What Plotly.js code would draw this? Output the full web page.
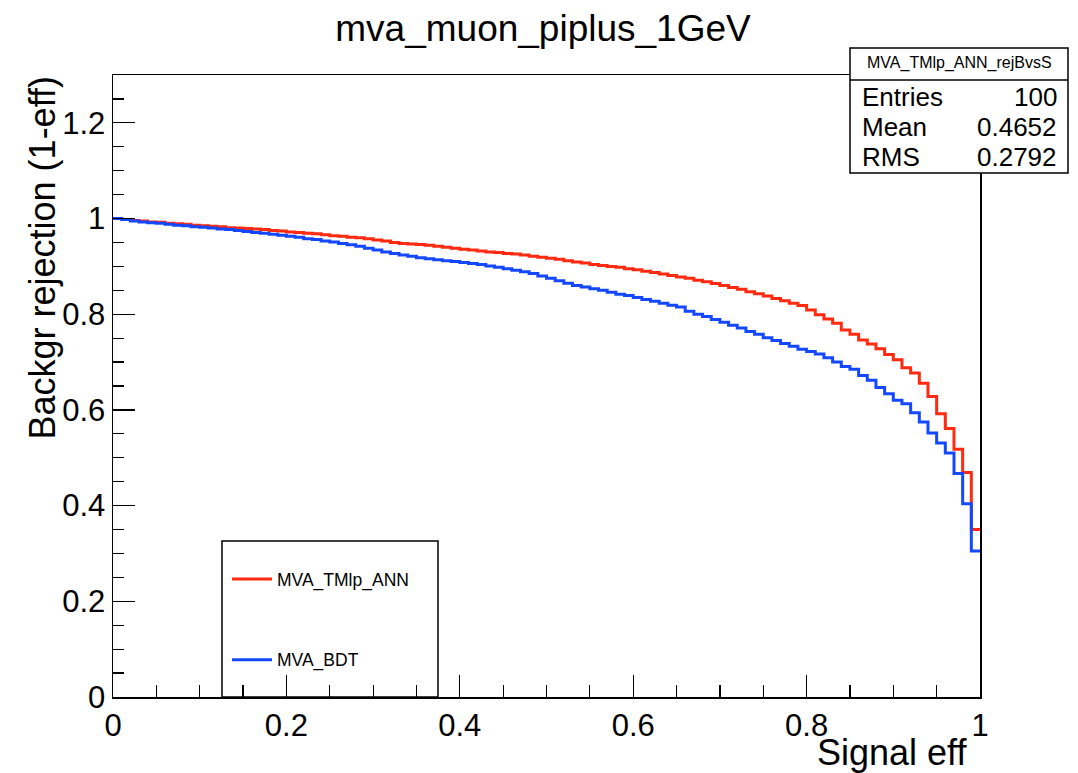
<!DOCTYPE html>
<html>
<head>
<meta charset="utf-8">
<script src="https://cdn.plot.ly/plotly-3.0.1.min.js"></script>
<style>html,body{margin:0;padding:0;background:#fff;}#chart{width:1078px;height:773px;}</style>
</head>
<body>
<div id="chart"></div>
<script>
// Histogram binning (100 bins from 0 to 1)
const nBins = 100;
const xMin = 0;
const xMax = 1;

const seriesNames = ["MVA_TMlp_ANN", "MVA_BDT"];

// Background rejection per signal-efficiency bin
const rejTMlpANN = [
  1.000, 0.998, 0.996, 0.995, 0.993, 0.992, 0.990, 0.989, 0.988, 0.986,
  0.985, 0.984, 0.983, 0.981, 0.980, 0.979, 0.978, 0.977, 0.975, 0.974,
  0.972, 0.971, 0.969, 0.968, 0.966, 0.964, 0.963, 0.961, 0.960, 0.958,
  0.955, 0.953, 0.950, 0.948, 0.947, 0.946, 0.944, 0.942, 0.940, 0.938,
  0.936, 0.934, 0.932, 0.930, 0.929, 0.927, 0.926, 0.924, 0.921, 0.919,
  0.917, 0.915, 0.912, 0.909, 0.907, 0.904, 0.902, 0.900, 0.898, 0.895,
  0.893, 0.890, 0.887, 0.884, 0.881, 0.878, 0.875, 0.871, 0.868, 0.864,
  0.860, 0.856, 0.852, 0.847, 0.843, 0.838, 0.833, 0.828, 0.823, 0.818,
  0.809, 0.799, 0.790, 0.781, 0.767, 0.758, 0.746, 0.738, 0.728, 0.716,
  0.705, 0.688, 0.677, 0.656, 0.628, 0.592, 0.561, 0.518, 0.469, 0.350
];
const rejBDT = [
  1.000, 0.998, 0.995, 0.993, 0.991, 0.990, 0.988, 0.986, 0.985, 0.983,
  0.982, 0.980, 0.978, 0.977, 0.975, 0.973, 0.971, 0.969, 0.967, 0.965,
  0.963, 0.961, 0.958, 0.956, 0.953, 0.951, 0.948, 0.945, 0.942, 0.938,
  0.934, 0.930, 0.927, 0.924, 0.921, 0.918, 0.916, 0.914, 0.912, 0.910,
  0.908, 0.906, 0.904, 0.901, 0.898, 0.895, 0.892, 0.889, 0.885, 0.880,
  0.875, 0.870, 0.865, 0.860, 0.857, 0.853, 0.850, 0.846, 0.842, 0.839,
  0.835, 0.831, 0.827, 0.823, 0.819, 0.815, 0.806, 0.800, 0.795, 0.789,
  0.783, 0.777, 0.771, 0.764, 0.758, 0.751, 0.745, 0.739, 0.733, 0.727,
  0.722, 0.717, 0.709, 0.700, 0.691, 0.685, 0.672, 0.662, 0.647, 0.634,
  0.620, 0.613, 0.594, 0.575, 0.552, 0.531, 0.510, 0.467, 0.404, 0.305
];

const xTickVals = [0, 0.2, 0.4, 0.6, 0.8, 1];
const xTickText = ["0", "0.2", "0.4", "0.6", "0.8", "1"];
const yTickVals = [0, 0.2, 0.4, 0.6, 0.8, 1, 1.2];
const yTickText = ["0", "0.2", "0.4", "0.6", "0.8", "1", "1.2"];

const statsTitle = "MVA_TMlp_ANN_rejBvsS";
const statsLabels = ["Entries", "Mean", "RMS"];
const statsValues = ["100", "0.4652", "0.2792"];

// Build step (histogram) traces from bin edges
const edges = [];
for (let i = 0; i <= nBins; i++) edges.push(xMin + (xMax - xMin) * i / nBins);
function stepY(v) { return v.concat([v[v.length - 1]]); }

const FONT = "Liberation Sans, Arial, Helvetica, sans-serif";
const RED = "#ff2a10";
const BLUE = "#1448ff";

const traces = [
  {x: edges, y: stepY(rejTMlpANN), type: "scatter", mode: "lines", name: seriesNames[0],
   line: {shape: "hv", color: RED, width: 3}, legendgroup: "a"},
  {x: edges, y: stepY(rejBDT), type: "scatter", mode: "lines", name: seriesNames[1],
   line: {shape: "hv", color: BLUE, width: 3}, legendgroup: "b"}
];

// Pixel -> paper helpers for decorations (plot area 113..980 x 75..697)
const L = 113, R = 980, T = 75, B = 697;
const px = p => (p - L) / (R - L);
const py = p => (B - p) / (B - T);

const annotations = [
  {text: "Signal eff", xref: "paper", yref: "paper", x: px(969), y: py(752), xanchor: "right", yanchor: "middle",
   showarrow: false, font: {family: FONT, size: 36, color: "#000"}},
  {text: "Backgr rejection (1-eff)", xref: "paper", yref: "paper", x: px(42), y: py(75), xanchor: "center", yanchor: "top",
   textangle: -90, showarrow: false, font: {family: FONT, size: 36, color: "#000"}},
  {text: statsTitle, xref: "paper", yref: "paper", x: px(959), y: py(63), xanchor: "center", yanchor: "middle",
   showarrow: false, font: {family: FONT, size: 16, color: "#000"}}
];
const rowY = [97, 127, 157];
for (let i = 0; i < statsLabels.length; i++) {
  annotations.push({text: statsLabels[i], xref: "paper", yref: "paper", x: px(860), y: py(rowY[i]), xanchor: "left", yanchor: "middle",
    showarrow: false, font: {family: FONT, size: 26, color: "#000"}});
  annotations.push({text: statsValues[i], xref: "paper", yref: "paper", x: px(1059), y: py(rowY[i]), xanchor: "right", yanchor: "middle",
    showarrow: false, font: {family: FONT, size: 26, color: "#000"}});
}

const shapes = [
  // stats box
  {type: "rect", xref: "paper", yref: "paper", x0: px(850), x1: px(1068), y0: py(173), y1: py(48),
   line: {color: "#000", width: 1.5}, fillcolor: "#fff", layer: "above"},
  {type: "line", xref: "paper", yref: "paper", x0: px(850), x1: px(1068), y0: py(80), y1: py(80),
   line: {color: "#000", width: 1.5}, layer: "above"},
  // legend box
  {type: "rect", xref: "paper", yref: "paper", x0: px(222), x1: px(438), y0: py(697), y1: py(541),
   line: {color: "#000", width: 1.5}, fillcolor: "rgba(255,255,255,0)", layer: "above"}
];

const layout = {
  width: 1078, height: 773,
  margin: {l: L, r: 1078 - R, t: T, b: 773 - B, pad: 0},
  paper_bgcolor: "#fff", plot_bgcolor: "#fff",
  font: {family: FONT, color: "#000"},
  title: {text: "mva_muon_piplus_1GeV", font: {family: FONT, size: 37, color: "#000"},
          x: 543 / 1078, xanchor: "center", xref: "container", y: 1 - 28 / 773, yanchor: "middle", yref: "container"},
  xaxis: {range: [xMin, xMax], tickvals: xTickVals, ticktext: xTickText, ticks: "inside", ticklen: 22, tickwidth: 1.2,
          tickcolor: "#000", showline: true, linecolor: "#000", linewidth: 1.5, mirror: true, showgrid: false, zeroline: false,
          tickfont: {family: FONT, size: 31, color: "#000"},
          minor: {dtick: 0.05, ticks: "inside", ticklen: 12, tickwidth: 1.2, tickcolor: "#000", showgrid: false}},
  yaxis: {range: [0, 1.3], tickvals: yTickVals, ticktext: yTickText, ticks: "inside", ticklen: 22, tickwidth: 1.2,
          tickcolor: "#000", showline: true, linecolor: "#000", linewidth: 1.5, mirror: true, showgrid: false, zeroline: false,
          tickfont: {family: FONT, size: 31, color: "#000"},
          minor: {dtick: 0.05, ticks: "inside", ticklen: 11, tickwidth: 1.2, tickcolor: "#000", showgrid: false}},
  showlegend: true,
  legend: {x: px(227), y: py(561), xanchor: "left", yanchor: "top", bgcolor: "rgba(0,0,0,0)", borderwidth: 0,
           font: {family: FONT, size: 17.5, color: "#000"}, traceorder: "grouped", tracegroupgap: 55, itemwidth: 40},
  annotations: annotations,
  shapes: shapes
};

Plotly.newPlot("chart", traces, layout, {displayModeBar: false, staticPlot: true});
</script>
</body>
</html>
